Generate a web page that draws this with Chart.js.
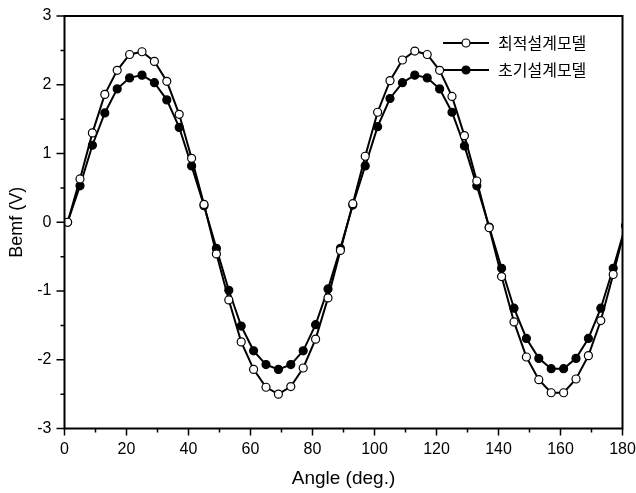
<!DOCTYPE html>
<html>
<head>
<meta charset="utf-8">
<script src="https://cdn.jsdelivr.net/npm/chart.js@4"></script>
<style>
  html, body { margin: 0; padding: 0; background: #fff; }
  #wrap { width: 636px; height: 493px; }
</style>
</head>
<body>
<div id="wrap"><canvas id="myChart"></canvas></div>
<script>
// 각도 (deg.)
const angles = [1, 5, 9, 13, 17, 21, 25, 29, 33, 37, 41, 45, 49, 53, 57, 61, 65, 69, 73, 77, 81, 85, 89,
	93, 97, 101, 105, 109, 113, 117, 121, 125, 129, 133, 137, 141, 145, 149, 153, 157, 161, 165, 169, 173, 177, 181];

// 최적설계모델 (흰 원)
const optimalBemf = [0, 0.63, 1.30, 1.86, 2.21, 2.44, 2.48, 2.34, 2.05, 1.57, 0.93, 0.26, -0.46, -1.13, -1.74, -2.14,
	-2.40, -2.50, -2.39, -2.12, -1.70, -1.10, -0.41, 0.27, 0.96, 1.60, 2.06, 2.36, 2.49, 2.44, 2.21, 1.83,
	1.26, 0.60, -0.08, -0.79, -1.45, -1.96, -2.29, -2.48, -2.48, -2.28, -1.94, -1.43, -0.76, -0.05];

// 초기설계모델 (검은 원)
const initialBemf = [0, 0.53, 1.12, 1.59, 1.94, 2.10, 2.14, 2.03, 1.78, 1.38, 0.82, 0.24, -0.38, -0.99, -1.51, -1.87,
	-2.07, -2.14, -2.07, -1.87, -1.49, -0.97, -0.38, 0.25, 0.82, 1.39, 1.80, 2.03, 2.14, 2.10, 1.94, 1.60,
	1.11, 0.53, -0.07, -0.67, -1.25, -1.69, -1.98, -2.13, -2.13, -1.98, -1.69, -1.25, -0.67, -0.05];

const seriesNames = ["최적설계모델", "초기설계모델"];
const xTicks = [0, 20, 40, 60, 80, 100, 120, 140, 160, 180];
const yTicks = [-3, -2, -1, 0, 1, 2, 3];

const toPoints = (ys) => angles.map((a, i) => ({x: a, y: ys[i]}));

// 프레임, 눈금, 범례를 직접 그림
const framePlugin = {
	id: 'frame',
	afterDraw(chart) {
		const {ctx, chartArea: ca, scales} = chart;
		const xs = scales.x, ys = scales.y;
		ctx.save();
		ctx.strokeStyle = '#000';
		ctx.lineWidth = 2;
		ctx.strokeRect(ca.left, ca.top, ca.right - ca.left, ca.bottom - ca.top);

		ctx.lineWidth = 1.5;
		ctx.beginPath();
		for (let v = 0; v <= 180; v += 10) {
			const px = xs.getPixelForValue(v);
			const len = (v % 20 === 0) ? 7 : 4;
			ctx.moveTo(px, ca.bottom);
			ctx.lineTo(px, ca.bottom + len);
		}
		for (let v = -3; v <= 3; v += 0.5) {
			const py = ys.getPixelForValue(v);
			const len = (v % 1 === 0) ? 8 : 4;
			ctx.moveTo(ca.left, py);
			ctx.lineTo(ca.left - len, py);
		}
		ctx.stroke();

		// 범례
		chart.data.datasets.forEach((ds, i) => {
			const y = 43 + i * 27;
			const x0 = 443, x1 = 489, mx = 466;
			ctx.lineWidth = 2;
			ctx.strokeStyle = '#000';
			ctx.beginPath();
			ctx.moveTo(x0, y);
			ctx.lineTo(x1, y);
			ctx.stroke();
			ctx.beginPath();
			ctx.arc(mx, y, 4, 0, Math.PI * 2);
			ctx.fillStyle = ds.pointBackgroundColor;
			ctx.fill();
			ctx.lineWidth = 1.2;
			ctx.stroke();
			ctx.fillStyle = '#000';
			ctx.font = '16px "Noto Sans CJK KR"';
			ctx.textBaseline = 'middle';
			ctx.textAlign = 'left';
			ctx.fillText(ds.label, 498, y);
		});
		ctx.restore();
	}
};

const ctx = document.getElementById('myChart').getContext('2d');
const myChart = new Chart(ctx, {
	type: 'line',
	data: {
		datasets: [{
			label: seriesNames[0],
			data: toPoints(optimalBemf),
			borderColor: '#000',
			borderWidth: 2,
			pointRadius: 4,
			pointBorderWidth: 1.2,
			pointBackgroundColor: '#fff',
			pointBorderColor: '#000'
		}, {
			label: seriesNames[1],
			data: toPoints(initialBemf),
			borderColor: '#000',
			borderWidth: 2,
			pointRadius: 4,
			pointBorderWidth: 1.2,
			pointBackgroundColor: '#000',
			pointBorderColor: '#000'
		}]
	},
	options: {
		responsive: true,
		maintainAspectRatio: false,
		animation: false,
		layout: { padding: { top: 16, right: 13.5, left: 0, bottom: 0 } },
		plugins: {
			legend: { display: false },
			tooltip: { enabled: false }
		},
		scales: {
			x: {
				type: 'linear',
				min: 0,
				max: 180,
				afterFit: (s) => { s.height = 64.5; s.paddingLeft = 0; s.paddingRight = 0; }, // 라벨 여백 무시
				afterBuildTicks: (s) => { s.ticks = xTicks.map(v => ({value: v})); },
				grid: { display: false, drawTicks: false },
				border: { display: false },
				ticks: { color: '#000', padding: 11, font: { family: 'Liberation Sans', size: 16 } },
				title: {
					display: true,
					text: 'Angle (deg.)',
					color: '#000',
					font: { family: 'Liberation Sans', size: 19 },
					padding: { top: 0, bottom: 3 }
				}
			},
			y: {
				type: 'linear',
				min: -3,
				max: 3,
				afterFit: (s) => { s.width = 64.5; s.paddingTop = 0; s.paddingBottom = 0; },
				afterBuildTicks: (s) => { s.ticks = yTicks.map(v => ({value: v})); },
				grid: { display: false, drawTicks: false },
				border: { display: false },
				ticks: { color: '#000', padding: 13, font: { family: 'Liberation Sans', size: 16 } },
				title: {
					display: true,
					text: 'Bemf (V)',
					color: '#000',
					font: { family: 'Liberation Sans', size: 18 },
					padding: { top: 6, bottom: 0 }
				}
			}
		}
	},
	plugins: [framePlugin]
});
</script>
</body>
</html>
